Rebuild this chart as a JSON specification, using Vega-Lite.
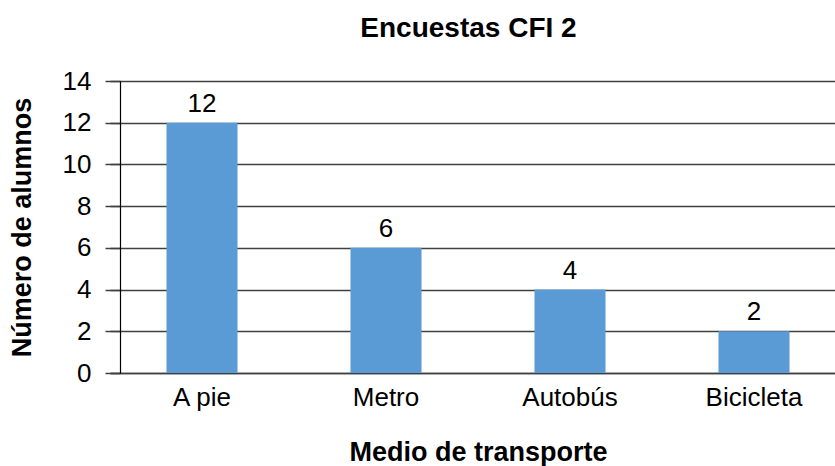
{
  "$schema": "https://vega.github.io/schema/vega-lite/v6.json",
  "width": 715,
  "height": 292,
  "autosize": {"type": "none"},
  "padding": {"left": 120, "top": 81, "right": 0, "bottom": 93},
  "background": "white",
  "config": {"font": "Liberation Sans", "view": {"stroke": null}},
  "title": {"text": "Encuestas CFI 2", "fontSize": 28, "fontWeight": "bold", "color": "black", "offset": 25, "dx": -9, "anchor": "middle", "frame": "group"},
  "data": {"values": [
    {"transporte": "A pie", "alumnos": 12},
    {"transporte": "Metro", "alumnos": 6},
    {"transporte": "Autobús", "alumnos": 4},
    {"transporte": "Bicicleta", "alumnos": 2}
  ]},
  "encoding": {
    "x": {"field": "transporte", "type": "nominal", "sort": null,
      "scale": {"range": [-10, 726], "paddingInner": 0, "paddingOuter": 0},
      "axis": {"title": "Medio de transporte", "titleFontSize": 27, "titleFontWeight": "bold", "titleColor": "black", "titlePadding": 29,
        "labelFontSize": 26, "labelColor": "black", "labelAngle": 0, "labelPadding": 11, "ticks": false, "domainColor": "#404040", "domainWidth": 1.5}},
    "y": {"field": "alumnos", "type": "quantitative",
      "scale": {"domain": [0, 14]},
      "axis": {"title": "Número de alumnos", "titleFontSize": 27, "titleFontWeight": "bold", "titleColor": "black", "titlePadding": 26,
        "values": [0, 2, 4, 6, 8, 10, 12, 14], "labelFontSize": 26, "labelColor": "black", "labelPadding": 14,
        "tickSize": 15, "tickColor": "#404040", "tickWidth": 1.5, "domainColor": "black", "domainWidth": 1.2,
        "grid": true, "gridColor": "#404040", "gridWidth": 1.5}}
  },
  "layer": [
    {"mark": {"type": "bar", "size": 71, "color": "#5b9bd5"}},
    {"mark": {"type": "text", "dy": -11, "baseline": "alphabetic", "fontSize": 26, "color": "black"},
      "encoding": {"text": {"field": "alumnos", "type": "quantitative"}}}
  ]
}
